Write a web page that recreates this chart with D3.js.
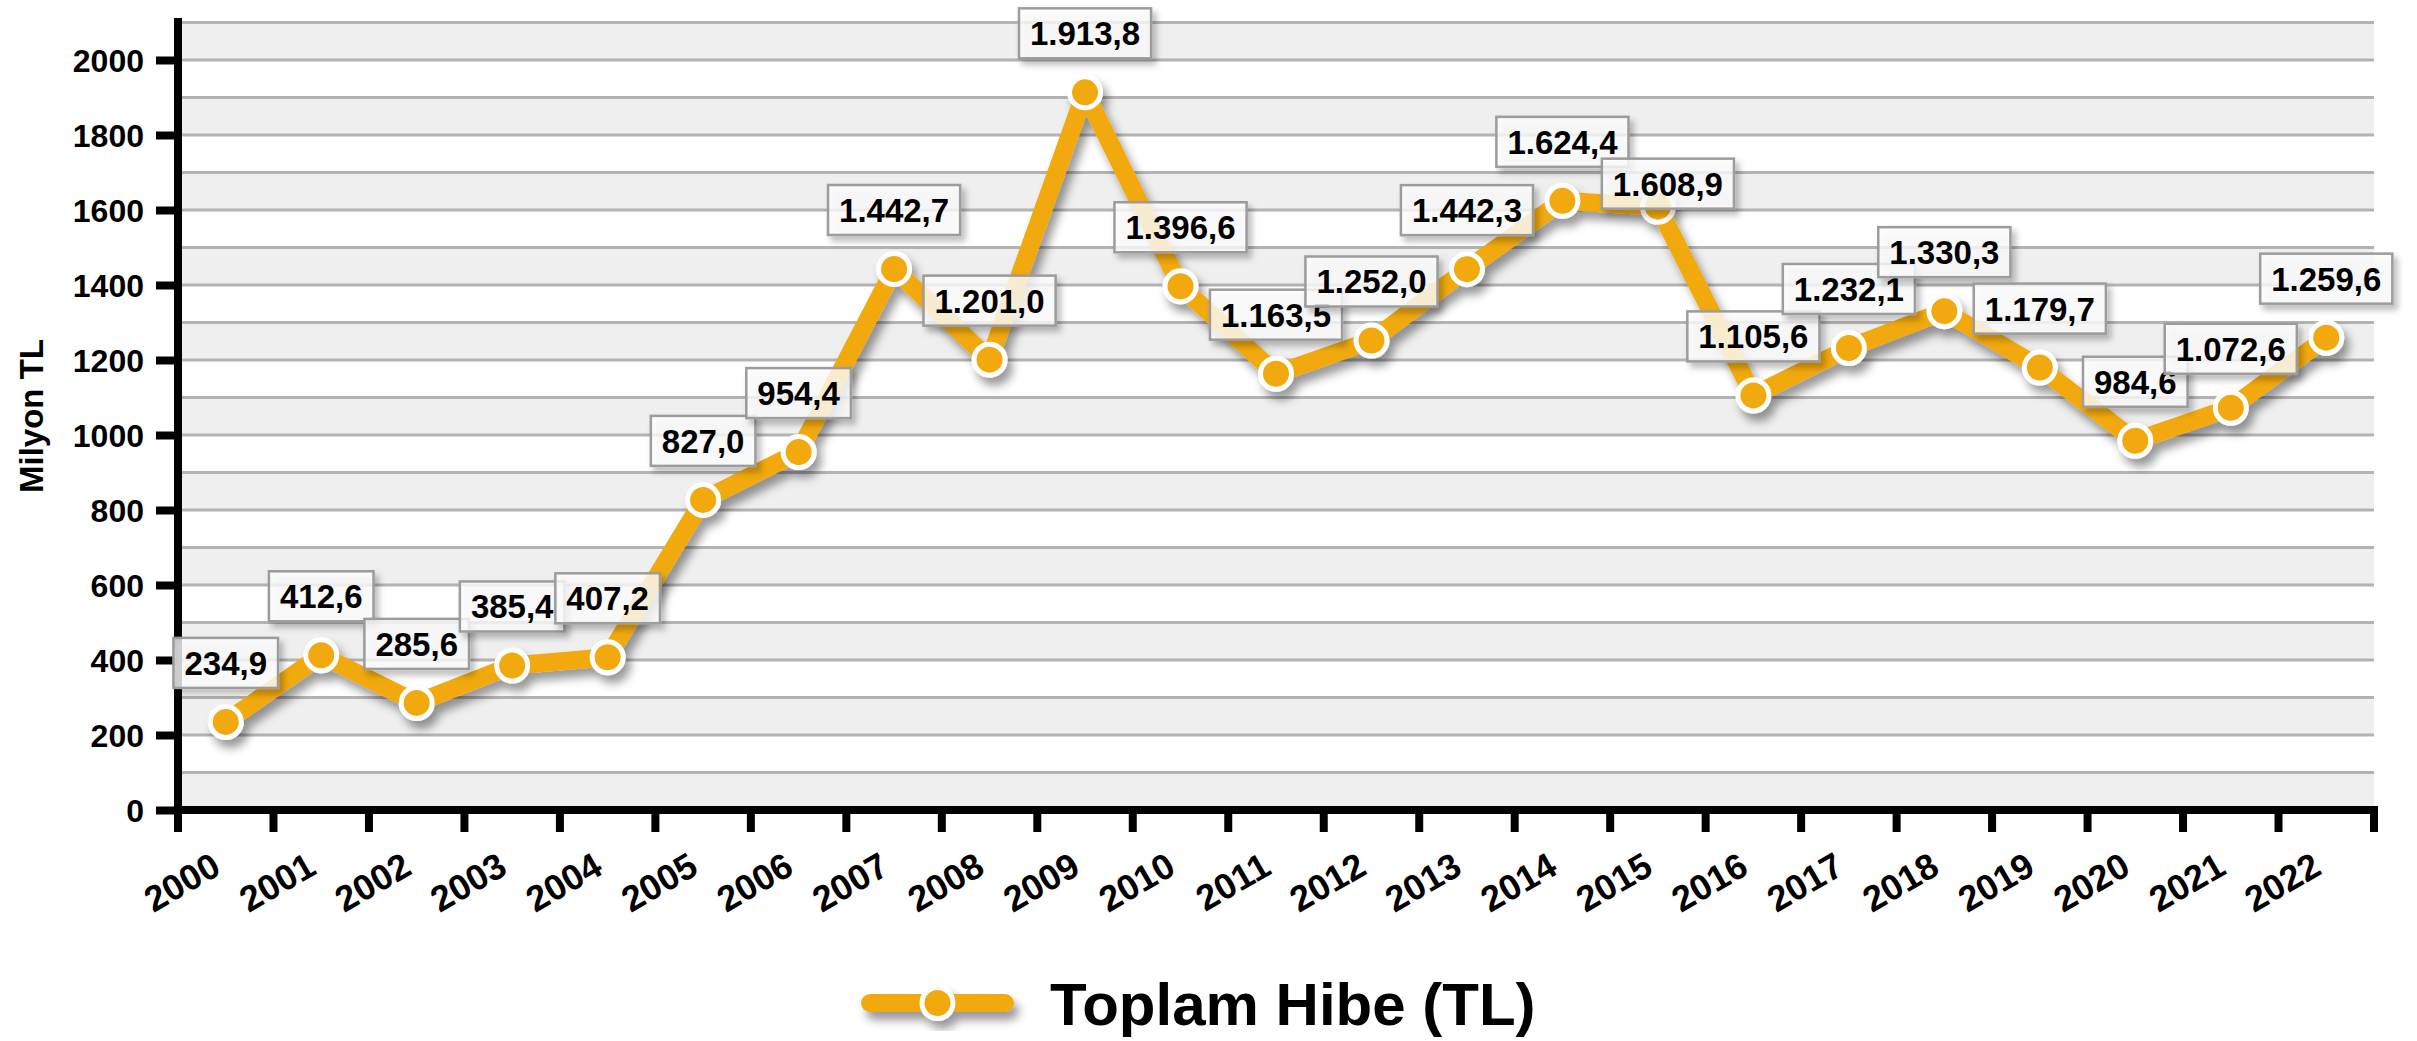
<!DOCTYPE html>
<html>
<head>
<meta charset="utf-8">
<script src="https://cdn.jsdelivr.net/npm/d3@7"></script>
<style>
  html, body { margin: 0; padding: 0; background: #ffffff; }
  svg { display: block; }
  text { font-family: "Liberation Sans", Arial, sans-serif; font-weight: bold; fill: #000; }
</style>
</head>
<body>
<svg id="chart" width="2417" height="1041"></svg>
<script>
// ---- data ----
const years = ["2000","2001","2002","2003","2004","2005","2006","2007","2008","2009","2010",
               "2011","2012","2013","2014","2015","2016","2017","2018","2019","2020","2021","2022"];
const values = [234.9, 412.6, 285.6, 385.4, 407.2, 827.0, 954.4, 1442.7, 1201.0, 1913.8, 1396.6,
                1163.5, 1252.0, 1442.3, 1624.4, 1608.9, 1105.6, 1232.1, 1330.3, 1179.7, 984.6, 1072.6, 1259.6];
const yTicks = [0, 200, 400, 600, 800, 1000, 1200, 1400, 1600, 1800, 2000];
const seriesName = "Toplam Hibe (TL)";
const yTitle = "Milyon TL";

// ---- layout ----
const left = 178, right = 2374, yBottom = 810, yTop2100 = 22.5;
const ORANGE = "#F1A90E";

const svg = d3.select("#chart");
const defs = svg.append("defs");
const f = defs.append("filter").attr("id", "shadow")
  .attr("x", "-20%").attr("y", "-20%").attr("width", "140%").attr("height", "160%");
f.append("feDropShadow").attr("dx", 5).attr("dy", 8).attr("stdDeviation", 5)
  .attr("flood-color", "#000").attr("flood-opacity", 0.4);
const f2 = defs.append("filter").attr("id", "boxshadow")
  .attr("x", "-20%").attr("y", "-30%").attr("width", "150%").attr("height", "180%");
f2.append("feDropShadow").attr("dx", 4).attr("dy", 5).attr("stdDeviation", 3)
  .attr("flood-color", "#000").attr("flood-opacity", 0.3);

const x = d3.scaleBand().domain(years).range([left, right]).paddingInner(0).paddingOuter(0);
const y = d3.scaleLinear().domain([0, 2100]).range([yBottom, yTop2100]);

// bands
const bandStarts = d3.range(0, 2100, 100);
svg.append("g").selectAll("rect").data(bandStarts.filter(v => (v / 100) % 2 === 0)).join("rect")
  .attr("x", left).attr("width", right - left)
  .attr("y", d => y(d + 100)).attr("height", d => y(d) - y(d + 100))
  .attr("fill", "#efefef");

// gridlines
svg.append("g").selectAll("line").data(d3.range(100, 2101, 100)).join("line")
  .attr("x1", left).attr("x2", right)
  .attr("y1", d => y(d)).attr("y2", d => y(d))
  .attr("stroke", "#b3b3b3").attr("stroke-width", 3);

// y axis
const yAxis = svg.append("g").attr("transform", `translate(${left},0)`)
  .call(d3.axisLeft(y).tickValues(yTicks).tickFormat(d3.format("d"))
    .tickSize(22).tickPadding(12).tickSizeOuter(0));
yAxis.select(".domain").remove();
yAxis.selectAll(".tick line").attr("stroke", "#000").attr("stroke-width", 8);
yAxis.selectAll(".tick text").attr("font-size", 32).attr("font-family", "Liberation Sans, Arial, sans-serif")
  .attr("font-weight", "bold").attr("fill", "#000").attr("dy", "0.36em");

// x axis labels
const xAxis = svg.append("g").attr("transform", `translate(0,${yBottom})`)
  .call(d3.axisBottom(x).tickSize(0).tickSizeOuter(0));
xAxis.select(".domain").remove();
xAxis.selectAll(".tick text")
  .attr("font-size", 36).attr("font-family", "Liberation Sans, Arial, sans-serif")
  .attr("font-weight", "bold").attr("fill", "#000")
  .attr("text-anchor", "end").attr("x", 0).attr("y", 0).attr("dy", 0)
  .attr("transform", "translate(-3,63) rotate(-30)");

// x boundary ticks
const bounds = years.map(d => x(d)).concat([x(years[years.length - 1]) + x.bandwidth()]);
svg.append("g").selectAll("line").data(bounds).join("line")
  .attr("x1", d => d).attr("x2", d => d).attr("y1", yBottom).attr("y2", yBottom + 22)
  .attr("stroke", "#000").attr("stroke-width", 8);

// axis lines
svg.append("line").attr("x1", left).attr("x2", left).attr("y1", y(2112)).attr("y2", yBottom + 22)
  .attr("stroke", "#000").attr("stroke-width", 8);
svg.append("line").attr("x1", left - 4).attr("x2", right + 4).attr("y1", yBottom).attr("y2", yBottom)
  .attr("stroke", "#000").attr("stroke-width", 8);

// y title
svg.append("text").attr("transform", `translate(43,416) rotate(-90)`)
  .attr("text-anchor", "middle").attr("font-size", 33).text(yTitle);

// line + markers
const cx = (d, i) => x(years[i]) + x.bandwidth() / 2;
const line = d3.line().x((d, i) => cx(d, i)).y(d => y(d));
const series = svg.append("g").attr("filter", "url(#shadow)");
series.append("path").datum(values).attr("d", line)
  .attr("fill", "none").attr("stroke", ORANGE).attr("stroke-width", 18)
  .attr("stroke-linejoin", "round").attr("stroke-linecap", "round");
series.selectAll("circle").data(values).join("circle")
  .attr("cx", cx).attr("cy", d => y(d)).attr("r", 15.5)
  .attr("fill", ORANGE).attr("stroke", "#fff").attr("stroke-width", 5);

// data labels
const fmt = d3.formatLocale({decimal: ",", thousands: ".", grouping: [3], currency: ["", ""]}).format(",.1f");
const labelOffset = years.map((d, i) => i === 15 ? [10, -23] : [0, -59]);
const lg = svg.append("g").selectAll("g").data(values).join("g")
  .attr("transform", (d, i) => `translate(${cx(d, i) + labelOffset[i][0]},${y(d) + labelOffset[i][1]})`);
lg.append("rect").attr("filter", "url(#boxshadow)")
  .attr("fill", "#fff").attr("fill-opacity", 0.78).attr("stroke", "#9c9c9c").attr("stroke-width", 2.5);
const texts = lg.append("text").attr("text-anchor", "middle").attr("dy", "0.36em")
  .attr("font-size", 33).text(d => fmt(d));
texts.each(function () {
  const w = this.getComputedTextLength() + 22;
  d3.select(this.parentNode).select("rect")
    .attr("x", -w / 2).attr("y", -25).attr("width", w).attr("height", 50);
});

// legend
const leg = svg.append("g");
const lx0 = 870, lx1 = 1005, ly = 1003;
const legS = leg.append("g").attr("filter", "url(#shadow)");
legS.append("line").attr("x1", lx0).attr("x2", lx1).attr("y1", ly).attr("y2", ly)
  .attr("stroke", ORANGE).attr("stroke-width", 18).attr("stroke-linecap", "round");
legS.append("circle").attr("cx", (lx0 + lx1) / 2).attr("cy", ly).attr("r", 15.5)
  .attr("fill", ORANGE).attr("stroke", "#fff").attr("stroke-width", 5);
leg.append("text").attr("x", 1050).attr("y", 1025).attr("font-size", 60).text(seriesName);
</script>
</body>
</html>
